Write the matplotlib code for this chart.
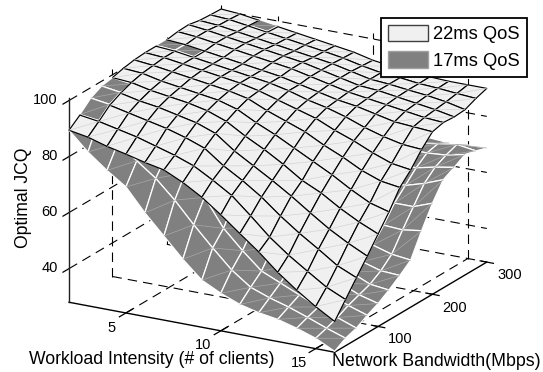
import numpy as np
import matplotlib
matplotlib.use('Agg')
import matplotlib.pyplot as plt
from matplotlib.patches import Patch
from mpl_toolkits.mplot3d.art3d import Poly3DCollection, Line3DCollection

plt.rcParams['font.family'] = ['Liberation Sans', 'DejaVu Sans']

clients = np.arange(2, 17)
bandwidth = np.arange(20, 301, 20)

client_ticks = [5, 10, 15]
bandwidth_ticks = [100, 200, 300]
jcq_ticks = [40, 60, 80, 100]

# rows = bandwidth, columns = clients
jcq_22ms = np.array([
    [89.4, 88.2, 86.2, 84.7, 83.0, 81.6, 78.4, 74.4, 69.4, 64.0, 58.7, 52.7, 47.6, 43.0, 39.0],
    [92.5, 91.5, 90.0, 88.5, 86.5, 84.5, 82.0, 78.2, 74.0, 68.0, 61.7, 56.5, 52.0, 47.6, 44.5],
    [96.0, 95.0, 93.5, 92.0, 90.5, 88.5, 86.0, 81.0, 77.0, 72.4, 66.9, 62.0, 57.6, 53.0, 50.0],
    [98.0, 97.0, 95.5, 94.5, 93.0, 91.5, 89.0, 84.0, 80.0, 76.0, 71.7, 67.0, 62.5, 58.7, 55.4],
    [99.0, 98.5, 97.0, 96.0, 95.0, 93.5, 91.0, 87.0, 83.5, 79.5, 75.0, 71.8, 67.6, 64.0, 61.0],
    [100.0, 99.5, 98.0, 97.0, 96.0, 95.0, 93.0, 89.5, 86.5, 83.0, 79.5, 76.0, 72.0, 68.5, 66.6],
    [100.7, 100.0, 99.0, 98.0, 97.0, 96.0, 94.5, 91.5, 89.0, 86.5, 83.0, 80.0, 76.5, 74.0, 73.0],
    [101.0, 100.5, 99.5, 98.5, 97.5, 96.5, 95.0, 93.0, 91.0, 89.0, 86.0, 83.5, 80.5, 78.0, 77.0],
    [101.0, 100.5, 99.5, 98.5, 97.5, 96.5, 95.5, 94.0, 92.0, 90.5, 88.5, 86.0, 84.0, 82.5, 82.0],
    [101.0, 100.5, 99.5, 98.5, 97.5, 96.5, 95.5, 94.0, 92.5, 91.0, 90.0, 88.5, 87.0, 86.5, 86.0],
    [101.6, 101.0, 100.0, 99.0, 98.0, 97.0, 96.0, 94.5, 93.0, 91.5, 90.5, 89.5, 88.5, 87.5, 87.0],
    [101.8, 101.0, 100.0, 99.0, 98.0, 97.0, 96.0, 94.5, 93.0, 91.5, 91.0, 90.0, 89.0, 88.0, 86.7],
    [101.0, 100.5, 99.5, 98.5, 97.5, 96.5, 95.5, 94.5, 93.0, 91.5, 91.0, 90.2, 89.5, 88.5, 87.0],
    [100.7, 100.3, 99.3, 98.3, 97.3, 96.3, 95.3, 94.2, 92.7, 91.5, 91.0, 90.2, 89.8, 89.2, 88.7],
    [100.5, 100.0, 99.0, 98.0, 97.0, 96.0, 95.0, 94.0, 92.4, 91.5, 91.0, 90.3, 90.0, 90.0, 90.0],
])

jcq_17ms = np.array([
    [89.4, 82.9, 77.6, 73.0, 65.0, 58.0, 51.0, 44.8, 41.4, 38.7, 37.0, 35.9, 34.0, 31.7, 28.3],
    [92.7, 91.8, 85.0, 80.0, 75.0, 68.5, 61.0, 54.0, 47.4, 42.5, 40.0, 38.0, 35.6, 33.0, 30.7],
    [96.3, 95.3, 88.0, 85.0, 81.0, 76.0, 68.5, 58.7, 52.0, 46.0, 43.0, 40.0, 37.0, 34.5, 32.0],
    [98.3, 97.3, 90.0, 87.5, 84.0, 80.0, 74.0, 66.0, 58.0, 52.0, 47.0, 43.0, 39.5, 36.5, 34.3],
    [99.0, 98.0, 92.0, 90.0, 87.0, 83.0, 78.0, 71.0, 63.0, 56.0, 50.0, 45.0, 41.0, 38.0, 36.2],
    [99.5, 98.5, 93.0, 91.0, 89.0, 85.0, 80.0, 74.0, 66.0, 58.0, 51.0, 46.0, 42.5, 39.5, 38.7],
    [100.0, 99.0, 94.0, 92.0, 90.0, 87.0, 82.0, 76.0, 68.0, 59.0, 52.0, 47.0, 44.0, 42.0, 41.6],
    [100.5, 100.0, 95.0, 93.0, 91.0, 88.0, 84.0, 78.0, 70.0, 60.0, 53.0, 48.0, 47.6, 45.6, 44.8],
    [101.3, 100.8, 99.8, 94.0, 92.0, 89.0, 85.0, 80.0, 72.0, 62.0, 55.0, 53.0, 52.4, 52.0, 53.0],
    [101.3, 100.8, 99.8, 95.0, 93.0, 90.0, 87.0, 82.0, 74.0, 64.0, 58.0, 58.0, 58.0, 58.0, 60.5],
    [100.0, 99.0, 97.0, 96.0, 94.0, 91.0, 88.0, 83.0, 75.0, 67.0, 63.0, 62.0, 62.0, 64.0, 66.6],
    [100.0, 99.0, 98.0, 97.0, 95.0, 92.0, 89.0, 84.0, 76.0, 69.0, 66.0, 66.0, 66.0, 67.5, 68.7],
    [100.0, 99.5, 98.5, 97.0, 95.0, 92.5, 89.5, 85.0, 77.0, 71.0, 68.0, 69.0, 69.0, 69.5, 71.0],
    [100.0, 99.5, 99.6, 98.6, 95.0, 92.5, 89.5, 85.0, 78.0, 72.0, 69.0, 69.0, 70.0, 71.0, 70.0],
    [100.0, 99.5, 99.3, 98.3, 96.0, 93.0, 90.0, 85.0, 79.0, 73.0, 69.0, 68.5, 68.0, 68.5, 68.7],
])

W, H = 543, 372
CLIENT_LIM = (2, 16)
BW_LIM = (20, 300)
JCQ_LIM = (28, 102)


def cells(zz, keep=None):
    polys, diags = [], []
    for j in range(len(bandwidth) - 1):
        for i in range(len(clients) - 1):
            if keep is not None and not keep[j, i]:
                continue
            a = (clients[i], bandwidth[j], zz[j, i])
            b = (clients[i + 1], bandwidth[j], zz[j, i + 1])
            c = (clients[i + 1], bandwidth[j + 1], zz[j + 1, i + 1])
            d = (clients[i], bandwidth[j + 1], zz[j + 1, i])
            polys.append([a, b, c, d])
            diags.append([a, c])
    return polys, diags


def cell_mean(zz):
    return (zz[:-1, :-1] + zz[:-1, 1:] + zz[1:, :-1] + zz[1:, 1:]) / 4


def px_text(x, y, s, **kw):
    return fig.text(x / W, 1 - y / H, s, **kw)


fig = plt.figure(figsize=(W / 100, H / 100), dpi=100)
ax = fig.add_axes([35 / W, -49.4 / H, 473 / W, 473 / H], projection='3d',
                  proj_type='ortho', computed_zorder=False)
ax.view_init(elev=19.5, azim=-60.6)
ax.set_box_aspect((305, 310, 220))
ax.set_xlim(*CLIENT_LIM, view_margin=0)
ax.set_ylim(*BW_LIM, view_margin=0)
ax.set_zlim(*JCQ_LIM, view_margin=0)
ax.set_axis_off()

dash = dict(color='black', lw=0.8, ls=(0, (8.5, 5.5)), zorder=1)
x0, x1 = CLIENT_LIM
y0, y1 = BW_LIM
z0, z1 = JCQ_LIM

# dashed grid on the floor and the two back walls
for c in client_ticks:
    ax.plot([c, c], [y0, y1], [z0, z0], **dash)
    ax.plot([c, c], [y1, y1], [z0, z1], **dash)
    ax.plot([c, c], [y0 - 12, y0 + 12], [z0, z0], color='black', lw=0.9, zorder=1.5)
for b in bandwidth_ticks:
    ax.plot([x0, x1], [b, b], [z0, z0], **dash)
    ax.plot([x0, x0], [b, b], [z0, z1], **dash)
    ax.plot([x1 - 0.35, x1 + 0.35], [b, b], [z0, z0], color='black', lw=0.9, zorder=1.5)
for z in jcq_ticks:
    ax.plot([x0, x0], [y0, y1], [z, z], **dash)
    ax.plot([x0, x1], [y1, y1], [z, z], **dash)
    ax.plot([x0, x0], [y0 - 11, y0], [z, z], color='black', lw=0.9, zorder=1.5)

# solid axis lines
ax.plot([x0, x1], [y0, y0], [z0, z0], color='black', lw=1.0, zorder=1.5)
ax.plot([x1, x1], [y0, y1], [z0, z0], color='black', lw=1.0, zorder=1.5)
ax.plot([x0, x0], [y0, y0], [z0, 101], color='#202020', lw=1.0, zorder=1.5)

# the 22ms surface is left out where the 17ms one pokes through it
keep_light = cell_mean(jcq_17ms) <= cell_mean(jcq_22ms)

polys_dark, diags_dark = cells(jcq_17ms)
ax.add_collection3d(Poly3DCollection(polys_dark, facecolors='#808080', edgecolors='white',
                                     linewidths=0.9, zorder=2))
ax.add_collection3d(Line3DCollection(diags_dark, colors='#a8a8a8', linewidths=0.5, zorder=3))

polys_light, diags_light = cells(jcq_22ms, keep_light)
ax.add_collection3d(Poly3DCollection(polys_light, facecolors='#f0f0f0', edgecolors='black',
                                     linewidths=0.85, zorder=4))
ax.add_collection3d(Line3DCollection(diags_light, colors='#d4d4d4', linewidths=0.5, zorder=4.1))

# tick labels
for v, x, y in zip(client_ticks, [112, 203, 299], [328, 345, 363]):
    px_text(x, y, str(v), fontsize=10.5, ha='center', va='center')
for v, x, y in zip(bandwidth_ticks, [400, 455, 510], [339, 308, 275]):
    px_text(x, y, str(v), fontsize=10.5, ha='center', va='center')
for v, y in zip(jcq_ticks, [268, 212, 156, 100]):
    px_text(58, y, str(v), fontsize=10.5, ha='right', va='center')

px_text(152, 359, 'Workload Intensity (# of clients)', fontsize=12.7, ha='center', va='center')
px_text(436, 361, 'Network Bandwidth(Mbps)', fontsize=12.8, ha='center', va='center')
px_text(24, 198, 'Optimal JCQ', fontsize=12.7, rotation=90, ha='center', va='center')

handles = [Patch(facecolor='#f0f0f0', edgecolor='#404040', label='22ms QoS'),
           Patch(facecolor='#808080', edgecolor='#a0a0a0', label='17ms QoS')]
leg = fig.legend(handles=handles, loc='upper left', bbox_to_anchor=(381 / W, 1 - 18 / H),
                 fontsize=13.2, frameon=True, fancybox=False, framealpha=1, edgecolor='black',
                 borderaxespad=0, handlelength=2.2, handleheight=1.0, handletextpad=0.25,
                 labelspacing=0.42, borderpad=0.38)
leg.get_frame().set_linewidth(1.3)

fig.savefig('out.png', dpi=100)
